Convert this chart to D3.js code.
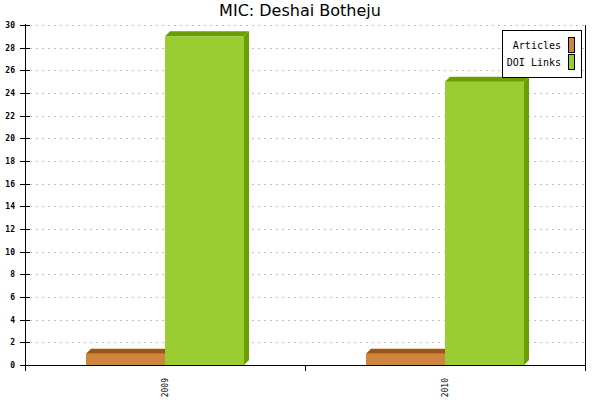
<!DOCTYPE html>
<html>
<head>
<meta charset="utf-8">
<script src="https://cdn.jsdelivr.net/npm/d3@7"></script>
<style>
  body { margin: 0; background: #fff; }
</style>
</head>
<body>
<div id="chart"></div>
<script>
var years = ["2009", "2010"];
var seriesNames = ["Articles", "DOI Links"];
var articles = [1, 1];
var doiLinks = [29, 25];
var yTicks = [0, 2, 4, 6, 8, 10, 12, 14, 16, 18, 20, 22, 24, 26, 28, 30];

var colors = ["#cd853f", "#9acd32"];
var darkColors = ["#9c5514", "#6b9e00"];
var depth = 5;

// plot area
var plotLeft = 25, plotRight = 585, plotTop = 25, plotBottom = 365;

var svg = d3.select("#chart").append("svg")
    .attr("width", 600)
    .attr("height", 400);

var y = d3.scaleLinear().domain([0, 30]).range([plotBottom, plotTop]);
var x = d3.scaleBand().domain(years).range([plotLeft, plotRight]);
var inner = d3.scaleBand().domain(seriesNames).range([0, x.bandwidth()]).paddingOuter(0.772);

// title
svg.append("text")
    .attr("x", 300)
    .attr("y", 16)
    .attr("text-anchor", "middle")
    .attr("font-family", "DejaVu Sans")
    .attr("font-size", 16)
    .text("MIC: Deshai Botheju");

// grid lines
svg.selectAll(".grid")
    .data(yTicks.filter(function(d) { return d > 0; }))
    .enter()
    .append("line")
    .attr("x1", plotLeft + 5)
    .attr("x2", plotRight)
    .attr("y1", function(d) { return Math.round(y(d)) + 0.5; })
    .attr("y2", function(d) { return Math.round(y(d)) + 0.5; })
    .attr("stroke", "#c0c0c0")
    .attr("stroke-dasharray", "2,4");

// bars
var data = [];
years.forEach(function(yr, i) {
    data.push({ year: yr, s: 0, v: articles[i] });
    data.push({ year: yr, s: 1, v: doiLinks[i] });
});

data.forEach(function(d) {
    var x0 = Math.round(x(d.year) + inner(seriesNames[d.s]));
    var x1 = Math.round(x0 + inner.bandwidth());
    var y0 = y(0);
    var y1 = y(d.v);
    svg.append("rect")
        .attr("x", x0)
        .attr("y", y1)
        .attr("width", x1 - x0)
        .attr("height", y0 - y1)
        .attr("fill", colors[d.s]);
    // top face
    svg.append("path")
        .attr("d", "M" + x0 + "," + y1 + "L" + (x0 + depth) + "," + (y1 - depth) +
            "L" + (x1 + depth) + "," + (y1 - depth) + "L" + x1 + "," + y1 + "Z")
        .attr("fill", darkColors[d.s]);
    // side face
    svg.append("path")
        .attr("d", "M" + x1 + "," + y1 + "L" + (x1 + depth) + "," + (y1 - depth) +
            "L" + (x1 + depth) + "," + (y0 - depth) + "L" + x1 + "," + y0 + "Z")
        .attr("fill", darkColors[d.s]);
});

// y axis
svg.append("line")
    .attr("x1", plotLeft + 0.5).attr("x2", plotLeft + 0.5)
    .attr("y1", plotTop - 1).attr("y2", plotBottom + 6)
    .attr("stroke", "#000");

svg.selectAll(".ytick")
    .data(yTicks)
    .enter()
    .append("line")
    .attr("x1", plotLeft - 5)
    .attr("x2", plotLeft + 5)
    .attr("y1", function(d) { return Math.round(y(d)) + 0.5; })
    .attr("y2", function(d) { return Math.round(y(d)) + 0.5; })
    .attr("stroke", "#000");

svg.selectAll(".ylabel")
    .data(yTicks)
    .enter()
    .append("text")
    .attr("x", 15)
    .attr("y", function(d) { return y(d) + 3; })
    .attr("text-anchor", "end")
    .attr("font-family", "DejaVu Sans Mono")
    .attr("font-weight", "bold")
    .attr("font-size", 8)
    .text(function(d) { return d; });

// x axis
svg.append("line")
    .attr("x1", plotLeft).attr("x2", plotRight)
    .attr("y1", plotBottom + 0.5).attr("y2", plotBottom + 0.5)
    .attr("stroke", "#000");

svg.append("line")
    .attr("x1", plotRight + 0.5).attr("x2", plotRight + 0.5)
    .attr("y1", plotTop).attr("y2", plotBottom + 6)
    .attr("stroke", "#000");

var xTickPos = years.map(function(d) { return x(d); }).concat([plotRight]);
svg.selectAll(".xtick")
    .data(xTickPos)
    .enter()
    .append("line")
    .attr("x1", function(d) { return d + 0.5; })
    .attr("x2", function(d) { return d + 0.5; })
    .attr("y1", plotBottom)
    .attr("y2", plotBottom + 6)
    .attr("stroke", "#000");

svg.selectAll(".xlabel")
    .data(years)
    .enter()
    .append("text")
    .attr("transform", function(d) {
        return "translate(" + (x(d) + x.bandwidth() / 2 + 3) + "," + (plotBottom + 13) + ") rotate(-90)";
    })
    .attr("text-anchor", "end")
    .attr("font-family", "DejaVu Sans Mono")
    .attr("font-size", 8)
    .text(function(d) { return d; });

// legend
var legend = svg.append("g");
legend.append("rect")
    .attr("x", 502.5).attr("y", 30.5)
    .attr("width", 79).attr("height", 47)
    .attr("fill", "#fff")
    .attr("stroke", "#000");

seriesNames.forEach(function(name, i) {
    legend.append("rect")
        .attr("x", 568.5).attr("y", 37.5 + i * 17)
        .attr("width", 6).attr("height", 15)
        .attr("fill", colors[i])
        .attr("stroke", "#000");
    legend.append("text")
        .attr("x", 561)
        .attr("y", 49 + i * 17)
        .attr("text-anchor", "end")
        .attr("font-family", "DejaVu Sans Mono")
        .attr("font-size", 10)
        .text(name);
});
</script>
</body>
</html>
